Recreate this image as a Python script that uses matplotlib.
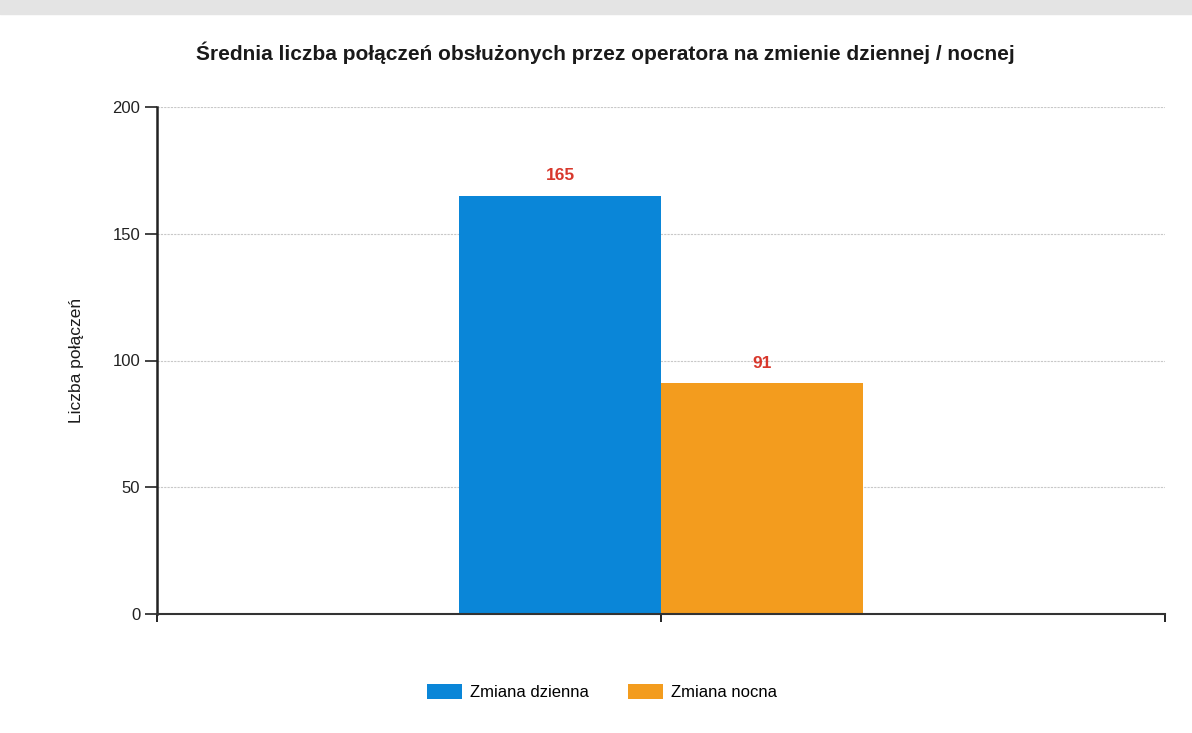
import matplotlib.pyplot as plt
from matplotlib.patches import Rectangle

plt.rcParams["font.family"] = ["Liberation Sans", "DejaVu Sans"]

# --- dane ---
series = ["Zmiana dzienna", "Zmiana nocna"]
values = [165, 91]
colors = ["#0A86D8", "#F39C1E"]
yticks = [0, 50, 100, 150, 200]

fig = plt.figure(figsize=(11.92, 7.33), dpi=100)
# szary pasek u gory (skan)
fig.patches.append(Rectangle((0, 1 - 14 / 733), 1, 14 / 733, transform=fig.transFigure,
                             color="#e4e4e4", zorder=0))

ax = fig.add_axes([157 / 1192, 1 - 614 / 733, (1165 - 157) / 1192, (614 - 107) / 733])

width = 0.2
for i, (name, v, c) in enumerate(zip(series, values, colors)):
    x = 0.5 + (i - 0.5) * width
    ax.bar(x, v, width=width, color=c, label=name, zorder=2)
    ax.text(x, v + 5, str(v), ha="center", va="bottom", color="#D8382C",
            fontsize=12.5, fontweight="bold")

ax.set_xlim(0, 1)
ax.set_ylim(0, 200)
ax.set_yticks(yticks)
ax.set_xticks([0, 0.5, 1])
ax.set_xticklabels([])
ax.tick_params(axis="y", length=9, width=1.2, labelsize=12, pad=3, colors="#222222")
ax.tick_params(axis="x", length=6, width=1.2)
ax.grid(axis="y", color="#c8c8c8", linestyle=(0, (2, 1)), linewidth=0.8, zorder=0)
for s in ["top", "right"]:
    ax.spines[s].set_visible(False)
ax.spines["left"].set_linewidth(1.8)
ax.spines["bottom"].set_linewidth(1.5)
ax.spines["left"].set_color("#222222")
ax.spines["bottom"].set_color("#333333")

fig.text(76 / 1192, 1 - 360 / 733, "Liczba połączeń", rotation=90, ha="center", va="center",
         fontsize=12.5, color="#1a1a1a")

fig.text(0.508, 1 - 53 / 733, "Średnia liczba połączeń obsłużonych przez operatora na zmienie dziennej / nocnej",
         ha="center", va="center", fontsize=15, fontweight="bold", color="#1a1a1a")

fig.legend(loc="center", bbox_to_anchor=(0.505, 1 - 692 / 733), ncol=2, frameon=False,
           fontsize=12, handlelength=2.1, handleheight=1.0, handletextpad=0.5, columnspacing=2.3)

fig.savefig("out.png", dpi=100)
